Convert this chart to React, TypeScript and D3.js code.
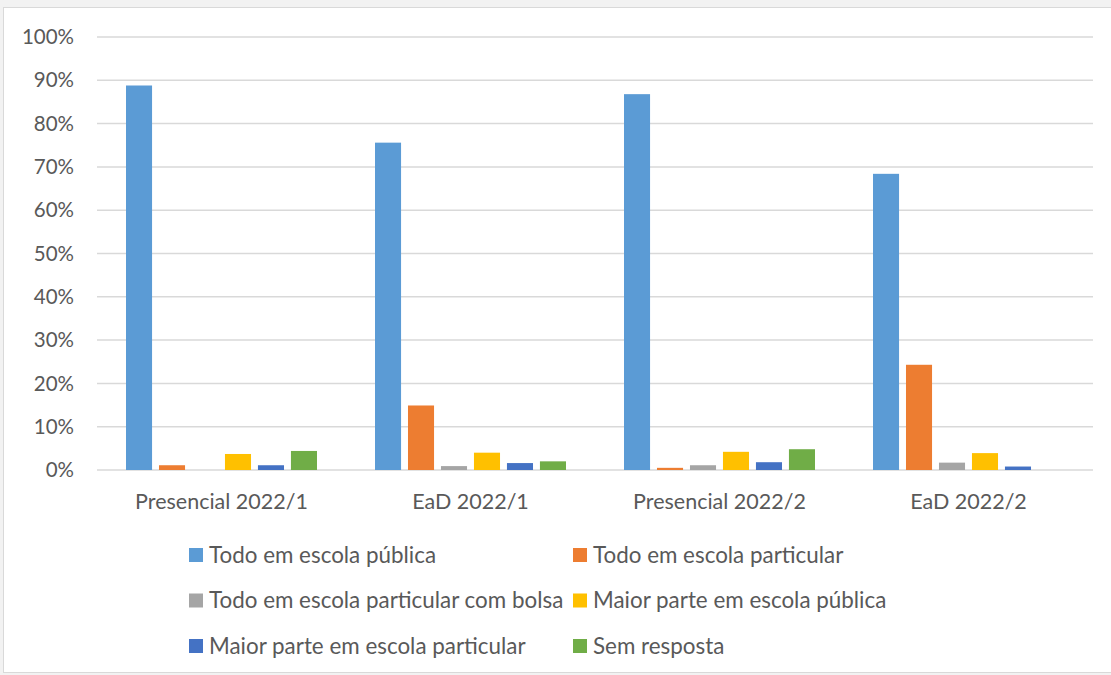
import React from "react";
import * as d3 from "d3";

const categories = ["Presencial 2022/1", "EaD 2022/1", "Presencial 2022/2", "EaD 2022/2"];
const seriesNames = [
  "Todo em escola pública",
  "Todo em escola particular",
  "Todo em escola particular com bolsa",
  "Maior parte em escola pública",
  "Maior parte em escola particular",
  "Sem resposta",
];
const seriesColors = ["#5B9BD5", "#ED7D31", "#A5A5A5", "#FFC000", "#4472C4", "#70AD47"];
// values in % per series, one per category
const todoPublica = [88.8, 75.6, 86.8, 68.4];
const todoParticular = [1.1, 14.9, 0.5, 24.3];
const particularBolsa = [0, 0.9, 1.1, 1.7];
const maiorPublica = [3.7, 4.0, 4.2, 3.9];
const maiorParticular = [1.1, 1.6, 1.8, 0.8];
const semResposta = [4.4, 2.0, 4.8, 0];
const seriesValues = [todoPublica, todoParticular, particularBolsa, maiorPublica, maiorParticular, semResposta];
const yTicks = [0, 10, 20, 30, 40, 50, 60, 70, 80, 90, 100];

export default function App() {
  const W = 1111, H = 675;
  const plotLeft = 97, plotRight = 1093, plotTop = 37, plotBottom = 470;
  const x0 = d3.scaleBand<string>().domain(categories).range([plotLeft, plotRight]).padding(0);
  const x1 = d3.scaleBand<number>().domain(d3.range(6)).range([29, 220]).paddingInner(0.21).paddingOuter(0);
  const y = d3.scaleLinear().domain([0, 100]).range([plotBottom, plotTop]);
  const font = "Lato, 'Open Sans', sans-serif";
  const textColor = "#595959";

  const legendRows = [555, 600.5, 646];
  const legendCols = [189, 573];

  return (
    <svg width={W} height={H} style={{ position: "absolute", left: 0, top: 0 }} fontFamily={font}>
      <rect x={0} y={0} width={W} height={H} fill="#f2f2f2" />
      <rect x={3.5} y={7.5} width={W + 5} height={H - 10} fill="#ffffff" stroke="#d9d9d9" strokeWidth={1} />
      {yTicks.map((t) => (
        <g key={t}>
          <line x1={plotLeft} x2={plotRight} y1={y(t)} y2={y(t)} stroke="#d9d9d9" strokeWidth={1.5} />
          <text x={74} y={y(t)} dy="0.35em" textAnchor="end" fontSize={20.5} fill={textColor}>
            {t}%
          </text>
        </g>
      ))}
      {categories.map((c, ci) => (
        <g key={c} transform={`translate(${x0(c)},0)`}>
          {seriesValues.map((vals, si) =>
            vals[ci] > 0 ? (
              <rect
                key={si}
                x={x1(si)}
                width={x1.bandwidth()}
                y={y(vals[ci])}
                height={y(0) - y(vals[ci])}
                fill={seriesColors[si]}
              />
            ) : null
          )}
          <text x={x0.bandwidth() / 2} y={501} dy="0.35em" textAnchor="middle" fontSize={21.5} fill={textColor}>
            {c}
          </text>
        </g>
      ))}
      {seriesNames.map((name, i) => {
        const col = i % 2;
        const row = Math.floor(i / 2);
        const lx = legendCols[col];
        const ly = legendRows[row];
        return (
          <g key={name}>
            <rect x={lx} y={ly - 7} width={14} height={14} fill={seriesColors[i]} />
            <text x={lx + 20} y={ly} dy="0.35em" fontSize={22.4} fill={textColor}>
              {name}
            </text>
          </g>
        );
      })}
    </svg>
  );
}
